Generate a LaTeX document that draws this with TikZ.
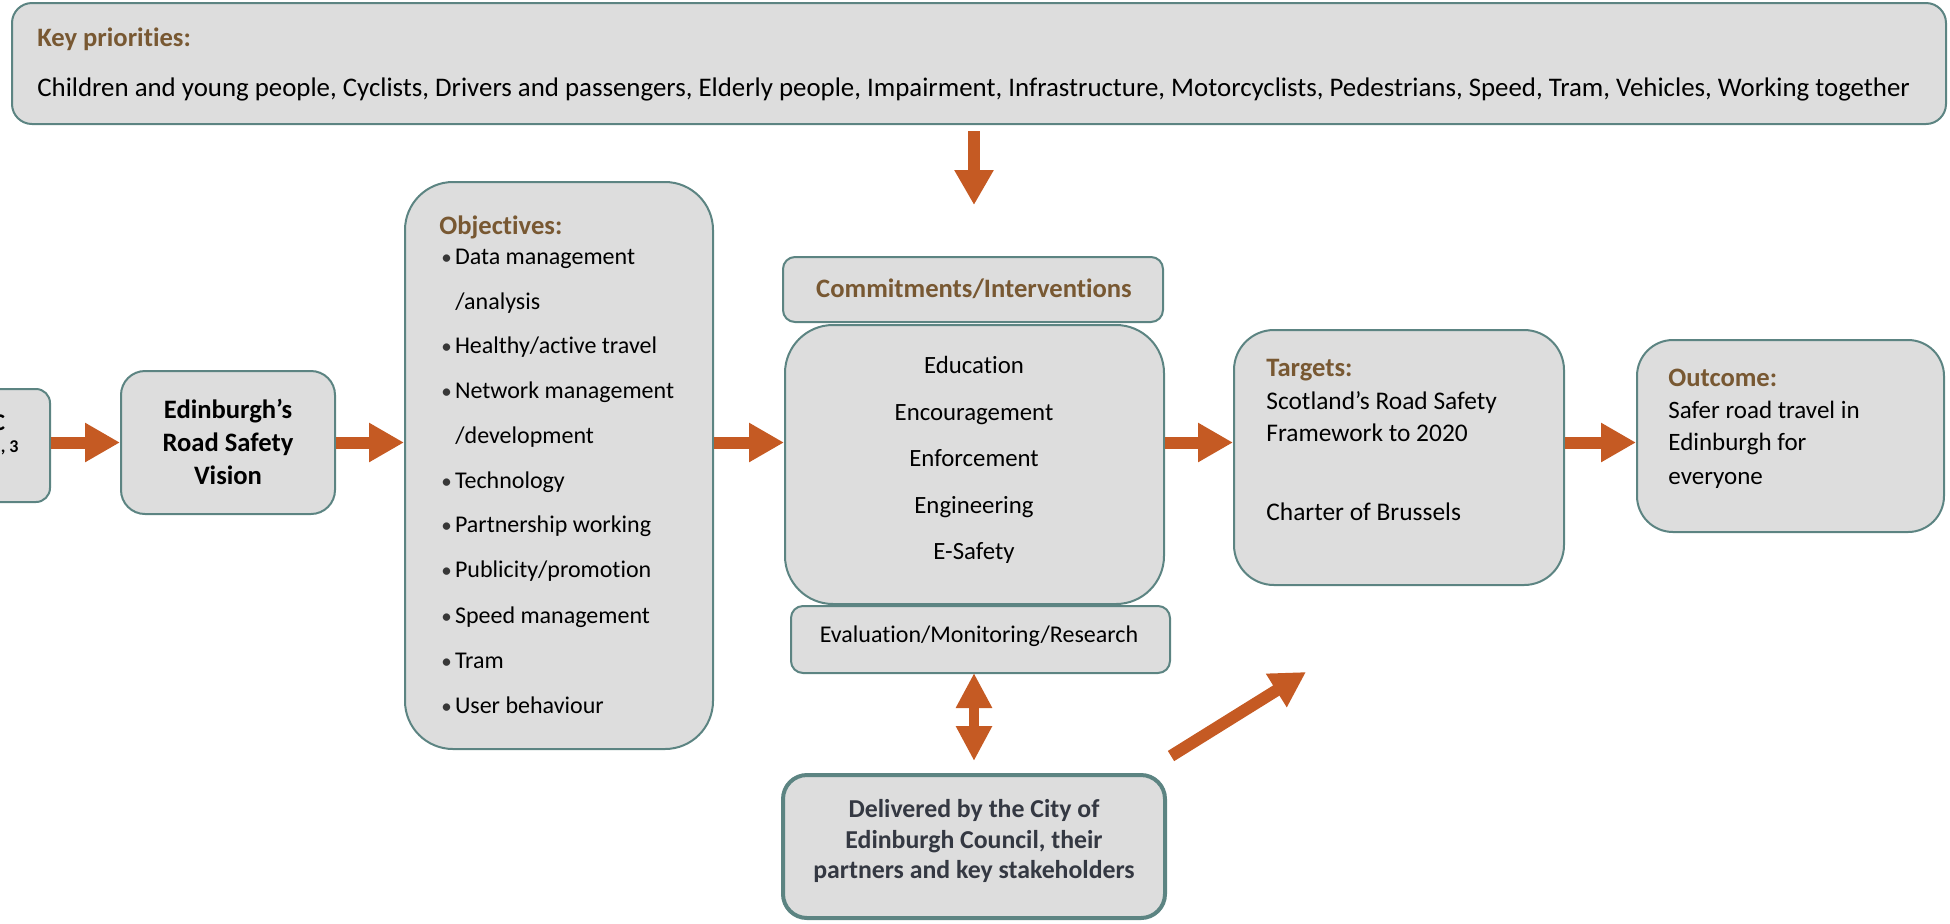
\documentclass[tikz,border=0pt]{standalone}
\usepackage{fontspec}
\setmainfont{Carlito}[RawFeature=-liga]
\usetikzlibrary{arrows.meta,fit}
\definecolor{boxfill}{RGB}{221,221,221}
\definecolor{boxline}{RGB}{92,132,130}
\definecolor{titlec}{RGB}{120,88,50}
\definecolor{arrowc}{RGB}{197,90,35}
\definecolor{delivc}{RGB}{52,56,66}
\definecolor{bulletc}{RGB}{55,55,55}
\newcommand\objbul{\makebox[6.8pt][l]{\textcolor{bulletc}{\fontsize{10.5}{10.5}\selectfont\textbullet}}}
\begin{document}
\begin{tikzpicture}[x=0.5pt,y=-0.5pt,
  box/.style={draw=boxline, fill=boxfill, line width=1pt, inner sep=0pt},
  txt/.style={inner sep=0pt, text height=0.68em, text depth=0.18em, yshift=-2pt},
  titlef/.style={font=\fontsize{13.3}{16}\selectfont\bfseries, text=titlec},
  bodyf/.style={font=\fontsize{12}{15}\selectfont},
  tgtf/.style={font=\fontsize{12.7}{16}\selectfont},
  bigarrow/.style={draw=arrowc, line width=6pt, -{Triangle[length=17.5pt,width=18.5pt]}},
  dblarrow/.style={draw=arrowc, line width=5pt, {Triangle[length=17.5pt,width=17pt]}-{Triangle[length=17.5pt,width=17pt]}}]
\useasboundingbox (0,0) rectangle (1950,923);
\clip (0,0) rectangle (1950,923);

% key priorities
\node[box, rounded corners=10pt, fit={(12,3) (1946,124)}] (prio) {};
\node[txt, anchor=west, titlef] (priot) at (37,37) {Key priorities:};
\node[txt, anchor=west, font=\fontsize{13.43}{16}\selectfont] (priol) at (37,87) {Children and young people, Cyclists, Drivers and passengers, Elderly people, Impairment, Infrastructure, Motorcyclists, Pedestrians, Speed, Tram, Vehicles, Working together};

% left partial box
\node[box, rounded corners=7pt, fit={(-60,389) (50,502)}] (lbox) {};
\node[txt, anchor=east, font=\fontsize{12}{14}\selectfont\bfseries] (lboxa) at (5.5,421) {C};
\node[txt, anchor=east, font=\fontsize{9}{10}\selectfont\bfseries] (lboxb) at (19,443) {2, 3};

% vision
\node[box, rounded corners=12pt, fit={(121,371) (335,514)}] (vision) {};
\node[inner sep=0pt, align=center, font=\fontsize{13.3}{16.5}\selectfont\bfseries] (visiont) at (228,442) {Edinburgh’s\\Road Safety\\Vision};

% objectives
\node[box, rounded corners=24pt, fit={(405,182) (713,749)}] (obj) {};
\node[txt, anchor=west, titlef] (objt) at (439,225) {Objectives:};
\node[txt, anchor=west, bodyf] (o1) at (441,255) {\objbul Data management};
\node[txt, anchor=west, bodyf] (o2) at (455,300) {/analysis};
\node[txt, anchor=west, bodyf] (o3) at (441,344.5) {\objbul Healthy/active travel};
\node[txt, anchor=west, bodyf] (o4) at (441,389) {\objbul Network management};
\node[txt, anchor=west, bodyf] (o5) at (455,434) {/development};
\node[txt, anchor=west, bodyf] (o6) at (441,479) {\objbul Technology};
\node[txt, anchor=west, bodyf] (o7) at (441,523.5) {\objbul Partnership working};
\node[txt, anchor=west, bodyf] (o8) at (441,568) {\objbul Publicity/promotion};
\node[txt, anchor=west, bodyf] (o9) at (441,614) {\objbul Speed management};
\node[txt, anchor=west, bodyf] (o10) at (441,659) {\objbul Tram};
\node[txt, anchor=west, bodyf] (o11) at (441,704) {\objbul User behaviour};

% commitments / interventions
\node[box, rounded corners=6pt, fit={(783,257) (1163,322)}] (commit) {};
\node[txt, titlef] (committ) at (974,288) {Commitments/Interventions};
\node[box, rounded corners=24pt, fit={(785,325) (1164,604)}] (interv) {};
\node[inner sep=0pt, align=center, font=\fontsize{12.4}{23.2}\selectfont] (intervt) at (974,460) {Education\\Encouragement\\Enforcement\\Engineering\\E-Safety};
\node[box, rounded corners=6pt, fit={(791,606) (1170,673)}] (eval) {};
\node[txt, bodyf] (evalt) at (979,633) {Evaluation/Monitoring/Research};

% delivered
\node[box, line width=2pt, rounded corners=12pt, fit={(783,775) (1165,918)}] (deliv) {};
\node[inner sep=0pt, align=center, text=delivc, font=\fontsize{12.9}{15.2}\selectfont\bfseries] (delivt) at (974,841) {Delivered by the City of\\Edinburgh Council, their\\partners and key stakeholders};

% targets
\node[box, rounded corners=20pt, fit={(1234,330) (1564,585)}] (targ) {};
\node[txt, anchor=west, titlef] (targt) at (1266,367) {Targets:};
\node[txt, anchor=west, tgtf] (targa) at (1266,400) {Scotland’s Road Safety};
\node[txt, anchor=west, tgtf] (targb) at (1266,432) {Framework to 2020};
\node[txt, anchor=west, tgtf] (targc) at (1266,511) {Charter of Brussels};

% outcome
\node[box, rounded corners=18pt, fit={(1637,340) (1944,532)}] (outc) {};
\node[txt, anchor=west, titlef] (outct) at (1668,377) {Outcome:};
\node[txt, anchor=west, font=\fontsize{12.5}{16}\selectfont] (outca) at (1668,409) {Safer road travel in};
\node[txt, anchor=west, font=\fontsize{12.5}{16}\selectfont] (outcb) at (1668,441) {Edinburgh for};
\node[txt, anchor=west, font=\fontsize{12.5}{16}\selectfont] (outcc) at (1668,475) {everyone};

% arrows
\draw[bigarrow] (lbox.east |- vision.east) -- (vision.west);
\draw[bigarrow] (vision.east) -- (vision.east -| obj.west);
\draw[bigarrow] (obj.east |- vision.east) -- (interv.west |- vision.east);
\draw[bigarrow] (interv.east |- vision.east) -- (targ.west |- vision.east);
\draw[bigarrow] (targ.east |- vision.east) -- (outc.west |- vision.east);

\coordinate (dtop) at (974,131);
\coordinate (dbot) at (974,205);
\draw[bigarrow] (dtop) -- (dbot);

\coordinate (dup) at (974,673);
\coordinate (ddn) at (974,761);
\draw[dblarrow] (dup) -- (ddn);

\coordinate (dstart) at (1171,756);
\coordinate (dend) at (1306,672);
\draw[bigarrow] (dstart) -- (dend);
\end{tikzpicture}
\end{document}
